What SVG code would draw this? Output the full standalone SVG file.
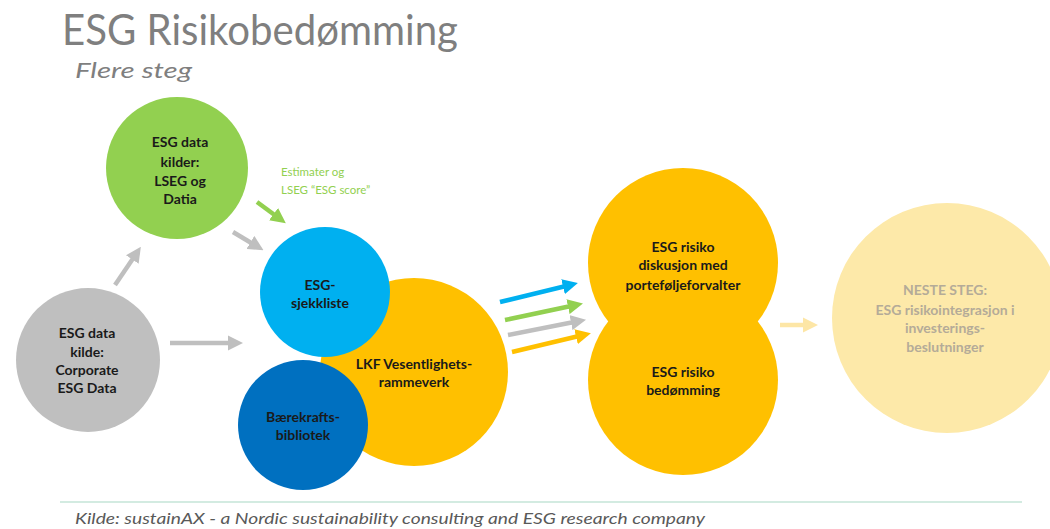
<svg xmlns="http://www.w3.org/2000/svg" width="1050" height="529" viewBox="0 0 1050 529">
  <style>
    .title { font-family: Lato, "Liberation Sans", sans-serif; fill: #7f7f7f; }
    .lbl { font-family: Lato, "Liberation Sans", sans-serif; font-weight: bold; font-size: 14px; fill: #1a1a1a; text-anchor: middle; }
    .faded { fill: #b4ab98; }
    .note { font-family: Lato, "Liberation Sans", sans-serif; font-size: 11.5px; fill: #92d050; }
    .foot { font-family: Lato, "Liberation Sans", sans-serif; font-style: italic; font-size: 16px; fill: #595959; }
    .conn { fill: none; stroke-width: 4.5; }
  </style>
  <defs>
    <marker id="ahGray" viewBox="0 0 10 10" refX="2" refY="5" markerWidth="3.4" markerHeight="3.4" orient="auto" markerUnits="strokeWidth">
      <path d="M0,0 L10,5 L0,10 z" fill="#bfbfbf"/>
    </marker>
    <marker id="ahGreen" viewBox="0 0 10 10" refX="2" refY="5" markerWidth="3.4" markerHeight="3.4" orient="auto" markerUnits="strokeWidth">
      <path d="M0,0 L10,5 L0,10 z" fill="#92d050"/>
    </marker>
    <marker id="ahBlue" viewBox="0 0 10 10" refX="2" refY="5" markerWidth="3.4" markerHeight="3.4" orient="auto" markerUnits="strokeWidth">
      <path d="M0,0 L10,5 L0,10 z" fill="#00b0f0"/>
    </marker>
    <marker id="ahOrange" viewBox="0 0 10 10" refX="2" refY="5" markerWidth="3.4" markerHeight="3.4" orient="auto" markerUnits="strokeWidth">
      <path d="M0,0 L10,5 L0,10 z" fill="#ffc000"/>
    </marker>
    <marker id="ahPale" viewBox="0 0 10 10" refX="2" refY="5" markerWidth="3.4" markerHeight="3.4" orient="auto" markerUnits="strokeWidth">
      <path d="M0,0 L10,5 L0,10 z" fill="#fde6a6"/>
    </marker>
  </defs>

  <rect width="1050" height="529" fill="#ffffff"/>

  <!-- Heading -->
  <text class="title" x="62" y="45" font-size="42" textLength="396" lengthAdjust="spacingAndGlyphs">ESG Risikobedømming</text>
  <text class="title" x="75" y="78" font-size="22" font-style="italic" textLength="117" lengthAdjust="spacingAndGlyphs">Flere steg</text>

  <!-- Connectors -->
  <g id="connectors">
    <line class="conn" x1="115" y1="285" x2="134" y2="257" stroke="#bfbfbf" marker-end="url(#ahGray)"/>
    <line class="conn" x1="170" y1="343" x2="231" y2="343" stroke="#bfbfbf" marker-end="url(#ahGray)"/>
    <line class="conn" x1="233" y1="232" x2="253" y2="244" stroke="#bfbfbf" marker-end="url(#ahGray)"/>
    <line class="conn" x1="257" y1="202" x2="276" y2="216" stroke="#92d050" marker-end="url(#ahGreen)"/>
    <line class="conn" x1="500" y1="302" x2="566" y2="286" stroke="#00b0f0" marker-end="url(#ahBlue)"/>
    <line class="conn" x1="505" y1="320" x2="571" y2="306" stroke="#92d050" marker-end="url(#ahGreen)"/>
    <line class="conn" x1="508" y1="335" x2="574" y2="322" stroke="#bfbfbf" marker-end="url(#ahGray)"/>
    <line class="conn" x1="512" y1="352" x2="579" y2="336" stroke="#ffc000" marker-end="url(#ahOrange)"/>
    <line class="conn" x1="780" y1="325" x2="806" y2="325" stroke="#fde6a6" marker-end="url(#ahPale)"/>
  </g>

  <text class="note" x="281" y="176">Estimater og</text>
  <text class="note" x="281" y="194">LSEG “ESG score”</text>

  <!-- Source: LSEG and Datia -->
  <g id="node-lseg">
    <circle cx="177" cy="168" r="71" fill="#92d050"/>
    <text class="lbl" x="180" y="147">ESG data</text>
    <text class="lbl" x="180" y="167">kilder:</text>
    <text class="lbl" x="180" y="186">LSEG og</text>
    <text class="lbl" x="180" y="204">Datia</text>
  </g>

  <!-- Source: corporate data -->
  <g id="node-corporate">
    <circle cx="88" cy="360" r="72" fill="#bfbfbf"/>
    <text class="lbl" x="87" y="338">ESG data</text>
    <text class="lbl" x="87" y="357">kilde:</text>
    <text class="lbl" x="87" y="375">Corporate</text>
    <text class="lbl" x="87" y="393">ESG Data</text>
  </g>

  <!-- Materiality framework -->
  <g id="node-lkf">
    <circle cx="414" cy="372" r="94" fill="#ffc000"/>
    <text class="lbl" x="414" y="369">LKF Vesentlighets-</text>
    <text class="lbl" x="414" y="387">rammeverk</text>
  </g>

  <g id="node-sjekkliste">
    <circle cx="325" cy="292" r="65" fill="#00b0f0"/>
    <text class="lbl" x="320" y="290">ESG-</text>
    <text class="lbl" x="320" y="308">sjekkliste</text>
  </g>

  <g id="node-bibliotek">
    <circle cx="303" cy="425" r="65" fill="#0070c0"/>
    <text class="lbl" x="303" y="422" fill="#111833">Bærekrafts-</text>
    <text class="lbl" x="303" y="440" fill="#111833">bibliotek</text>
  </g>

  <!-- Risk assessment pair -->
  <g id="node-risiko">
    <circle cx="683" cy="263" r="95" fill="#ffc000"/>
    <circle cx="683" cy="380" r="95" fill="#ffc000"/>
    <text class="lbl" x="683" y="252">ESG risiko</text>
    <text class="lbl" x="683" y="270">diskusjon med</text>
    <text class="lbl" x="683" y="290">porteføljeforvalter</text>
    <text class="lbl" x="683" y="377">ESG risiko</text>
    <text class="lbl" x="683" y="395">bedømming</text>
  </g>

  <!-- Next step -->
  <g id="node-neste">
    <circle cx="947" cy="318" r="115" fill="#fde9a9"/>
    <text class="lbl faded" x="945" y="295">NESTE STEG:</text>
    <text class="lbl faded" x="945" y="315">ESG risikointegrasjon i</text>
    <text class="lbl faded" x="945" y="333">investerings-</text>
    <text class="lbl faded" x="945" y="352">beslutninger</text>
  </g>

  <!-- Footer -->
  <line x1="60" y1="502" x2="1022" y2="502" stroke="#a8d8c4" stroke-width="1.2"/>
  <text class="foot" x="75" y="524" textLength="630" lengthAdjust="spacingAndGlyphs">Kilde: sustainAX -  a Nordic sustainability consulting and ESG research company</text>
</svg>
